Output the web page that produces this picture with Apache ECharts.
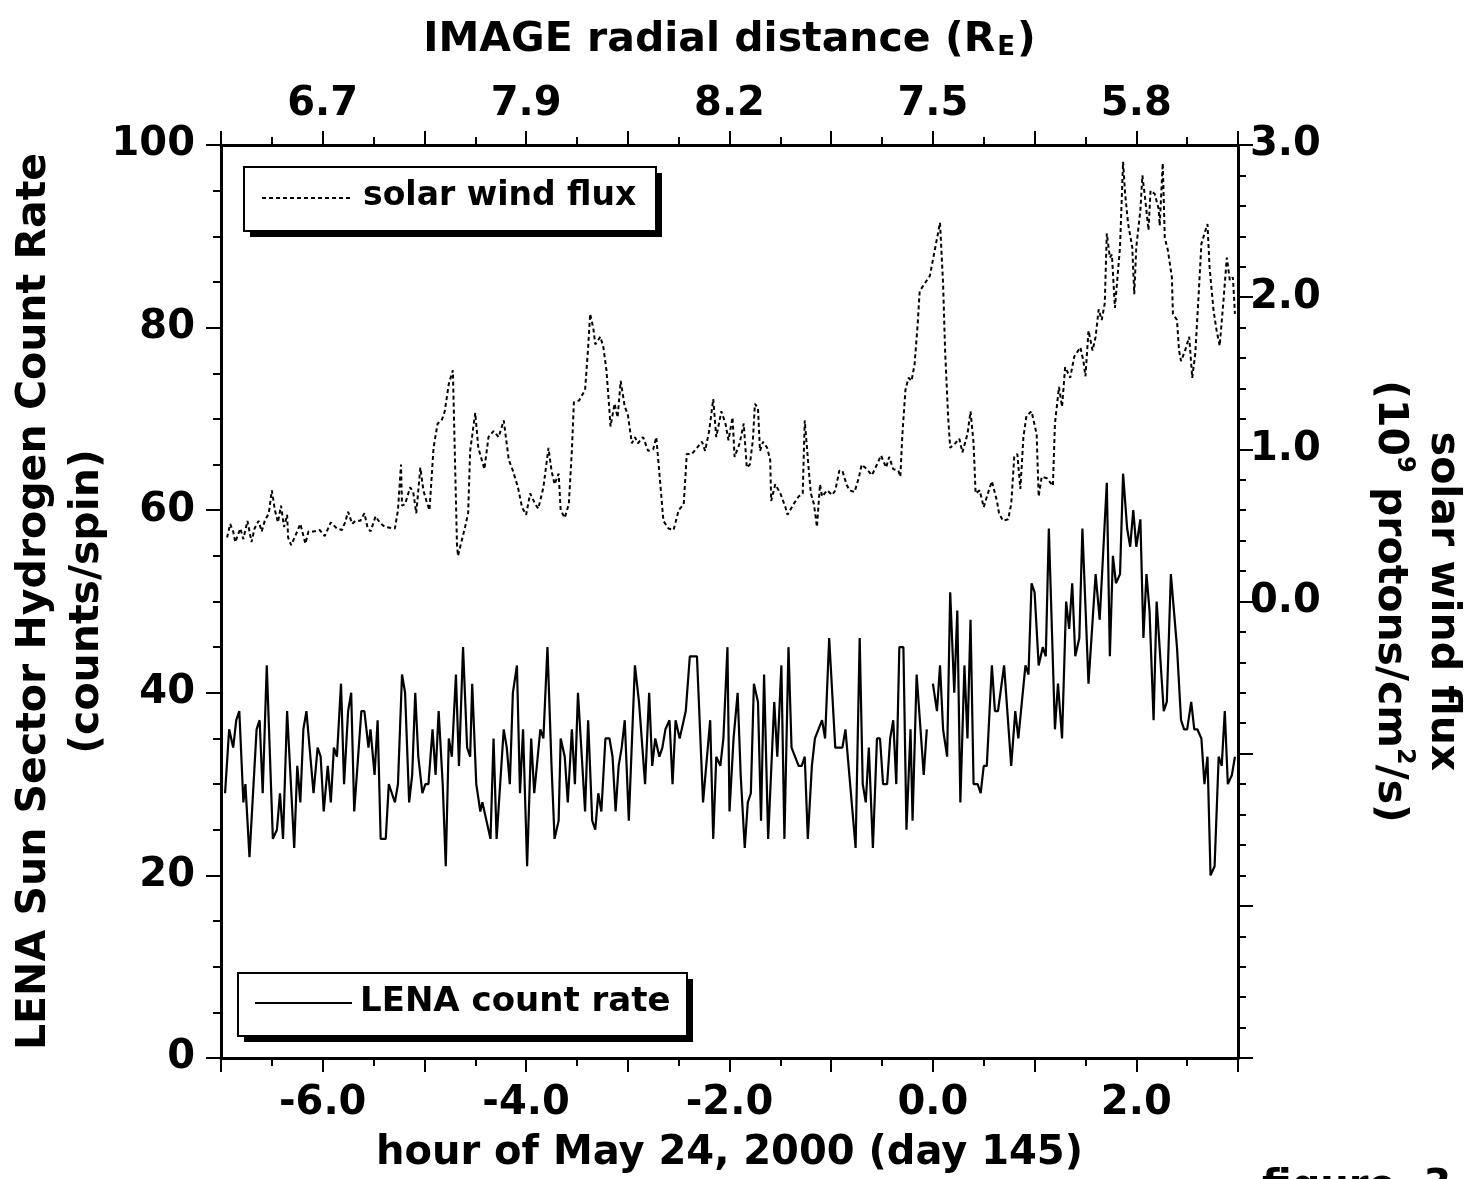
<!DOCTYPE html>
<html>
<head>
<meta charset="utf-8">
<title>LENA count rate and solar wind flux</title>
<script src="https://cdn.jsdelivr.net/npm/echarts@6/dist/echarts.min.js"></script>
<style>
  html, body { margin: 0; padding: 0; background: #fff; }
  #chart { width: 1469px; height: 1179px; }
</style>
</head>
<body>
<div id="chart"></div>
<script>
// hour of May 24, 2000 for each LENA sample (null value = data gap)
var lenaHours = [
  -6.96, -6.92, -6.88, -6.85, -6.82, -6.78, -6.76, -6.72, -6.65, -6.62, -6.59, -6.55, -6.49, -6.45, -6.42, -6.39,
  -6.35, -6.28, -6.25, -6.22, -6.19, -6.16, -6.09, -6.05, -6.02, -5.99, -5.95, -5.92, -5.89, -5.86, -5.82, -5.79,
  -5.75, -5.72, -5.69, -5.62, -5.59, -5.55, -5.53, -5.49, -5.46, -5.43, -5.38, -5.35, -5.32, -5.29, -5.26, -5.22,
  -5.19, -5.15, -5.12, -5.09, -5.06, -5.02, -4.99, -4.96, -4.92, -4.89, -4.86, -4.82, -4.79, -4.76, -4.73, -4.69,
  -4.66, -4.62, -4.58, -4.55, -4.53, -4.49, -4.45, -4.43, -4.35, -4.32, -4.29, -4.22, -4.19, -4.16, -4.13, -4.09,
  -4.06, -4.03, -3.99, -3.95, -3.92, -3.86, -3.83, -3.79, -3.75, -3.72, -3.68, -3.66, -3.62, -3.59, -3.55, -3.52,
  -3.49, -3.42, -3.39, -3.35, -3.32, -3.29, -3.26, -3.22, -3.18, -3.15, -3.12, -3.09, -3.06, -3.03, -2.99, -2.93,
  -2.89, -2.83, -2.79, -2.76, -2.73, -2.69, -2.66, -2.63, -2.59, -2.56, -2.53, -2.49, -2.43, -2.39, -2.32, -2.26,
  -2.19, -2.16, -2.13, -2.09, -2.06, -2.02, -2.00, -1.96, -1.92, -1.89, -1.85, -1.82, -1.79, -1.76, -1.72, -1.69,
  -1.66, -1.62, -1.56, -1.53, -1.49, -1.46, -1.42, -1.39, -1.32, -1.29, -1.26, -1.23, -1.19, -1.16, -1.09, -1.06,
  -1.02, -0.96, -0.92, -0.89, -0.86, -0.76, -0.72, -0.69, -0.66, -0.63, -0.59, -0.55, -0.52, -0.49, -0.45, -0.42,
  -0.39, -0.36, -0.33, -0.29, -0.26, -0.22, -0.20, -0.16, -0.09, -0.06, -0.03, 0.00, 0.04, 0.07, 0.10, 0.14,
  0.17, 0.21, 0.24, 0.27, 0.31, 0.34, 0.37, 0.40, 0.44, 0.47, 0.50, 0.53, 0.58, 0.61, 0.64, 0.70,
  0.77, 0.81, 0.84, 0.91, 0.94, 0.97, 1.00, 1.04, 1.08, 1.11, 1.14, 1.20, 1.23, 1.27, 1.31, 1.34,
  1.37, 1.40, 1.44, 1.47, 1.53, 1.60, 1.64, 1.71, 1.74, 1.77, 1.80, 1.84, 1.87, 1.91, 1.94, 1.97,
  2.00, 2.04, 2.07, 2.10, 2.13, 2.17, 2.20, 2.27, 2.30, 2.34, 2.40, 2.44, 2.47, 2.50, 2.54, 2.57,
  2.60, 2.64, 2.67, 2.70, 2.73, 2.77, 2.81, 2.84, 2.87, 2.90, 2.94, 2.97
];
// LENA sun sector hydrogen count rate (counts/spin)
var lenaCounts = [
  29, 36, 34, 37, 38, 28, 30, 22, 36, 37, 29, 43, 24, 25, 29, 24,
  38, 23, 32, 28, 36, 38, 29, 34, 33, 27, 32, 28, 34, 33, 41, 30,
  38, 40, 27, 38, 38, 34, 36, 31, 37, 24, 24, 30, 29, 28, 30, 42,
  40, 28, 31, 40, 33, 29, 30, 30, 36, 31, 38, 30, 21, 35, 33, 42,
  32, 45, 34, 33, 41, 30, 27, 28, 24, 35, 24, 36, 34, 30, 40, 43,
  29, 36, 21, 35, 29, 36, 35, 45, 32, 24, 26, 35, 33, 28, 36, 30,
  40, 27, 37, 26, 25, 29, 27, 35, 35, 33, 27, 32, 34, 37, 26, 43,
  39, 30, 40, 32, 35, 33, 34, 36, 37, 30, 37, 35, 38, 44, 44, 28,
  37, 24, 33, 32, 35, 45, 27, 35, 40, 31, 23, 28, 29, 41, 39, 26,
  42, 24, 39, 33, 43, 24, 45, 34, 32, 32, 33, 24, 32, 35, 37, 35,
  46, 34, 34, 34, 36, 23, 46, 30, 28, 34, 23, 35, 35, 30, 30, 35,
  37, 30, 45, 45, 25, 36, 26, 42, 31, 36, null, 41, 38, 43, 36, 33,
  51, 40, 49, 28, 43, 35, 48, 30, 30, 29, 32, 32, 43, 38, 38, 43,
  32, 38, 35, 43, 42, 52, 51, 43, 45, 44, 58, 36, 41, 35, 50, 47,
  52, 44, 46, 58, 41, 53, 48, 63, 44, 55, 52, 53, 64, 58, 56, 60,
  56, 59, 46, 53, 49, 37, 50, 38, 39, 53, 45, 37, 36, 36, 39, 36,
  36, 35, 30, 33, 20, 21, 33, 32, 38, 30, 31, 33
];
// hour of May 24, 2000 for each solar wind sample
var fluxHours = [
  -6.94, -6.91, -6.88, -6.86, -6.81, -6.78, -6.74, -6.70, -6.67, -6.63, -6.60, -6.57, -6.53, -6.50, -6.47, -6.44,
  -6.41, -6.38, -6.35, -6.34, -6.31, -6.27, -6.22, -6.17, -6.14, -6.09, -6.03, -5.98, -5.92, -5.86, -5.81, -5.78,
  -5.75, -5.71, -5.68, -5.63, -5.59, -5.56, -5.53, -5.50, -5.48, -5.44, -5.39, -5.29, -5.26, -5.23, -5.22, -5.19,
  -5.14, -5.11, -5.08, -5.04, -5.01, -4.98, -4.95, -4.91, -4.87, -4.83, -4.80, -4.76, -4.72, -4.68, -4.67, -4.60,
  -4.57, -4.55, -4.50, -4.47, -4.41, -4.37, -4.32, -4.27, -4.22, -4.17, -4.13, -4.08, -4.04, -4.00, -3.96, -3.91,
  -3.88, -3.83, -3.78, -3.75, -3.72, -3.68, -3.66, -3.62, -3.58, -3.55, -3.53, -3.48, -3.42, -3.39, -3.37, -3.34,
  -3.32, -3.27, -3.24, -3.21, -3.18, -3.17, -3.13, -3.10, -3.07, -3.03, -3.00, -2.96, -2.93, -2.90, -2.85, -2.80,
  -2.75, -2.72, -2.68, -2.65, -2.60, -2.55, -2.50, -2.45, -2.42, -2.37, -2.32, -2.27, -2.24, -2.20, -2.16, -2.13,
  -2.08, -2.04, -2.01, -1.97, -1.95, -1.90, -1.86, -1.83, -1.80, -1.77, -1.75, -1.72, -1.70, -1.67, -1.63, -1.60,
  -1.59, -1.55, -1.50, -1.45, -1.43, -1.37, -1.32, -1.28, -1.26, -1.22, -1.20, -1.17, -1.14, -1.11, -1.09, -1.04,
  -0.99, -0.96, -0.92, -0.89, -0.85, -0.82, -0.77, -0.73, -0.70, -0.65, -0.60, -0.55, -0.51, -0.46, -0.43, -0.39,
  -0.34, -0.32, -0.30, -0.27, -0.24, -0.21, -0.18, -0.15, -0.13, -0.08, -0.03, 0.07, 0.10, 0.12, 0.15, 0.17,
  0.22, 0.26, 0.29, 0.34, 0.37, 0.40, 0.42, 0.46, 0.50, 0.54, 0.58, 0.63, 0.65, 0.69, 0.74, 0.77,
  0.80, 0.83, 0.86, 0.89, 0.92, 0.97, 1.02, 1.04, 1.07, 1.12, 1.18, 1.20, 1.24, 1.27, 1.30, 1.35,
  1.39, 1.45, 1.48, 1.50, 1.53, 1.57, 1.60, 1.63, 1.66, 1.69, 1.71, 1.74, 1.76, 1.79, 1.82, 1.84,
  1.87, 1.89, 1.92, 1.96, 1.98, 2.00, 2.04, 2.06, 2.09, 2.12, 2.14, 2.18, 2.22, 2.23, 2.26, 2.28,
  2.31, 2.35, 2.36, 2.40, 2.42, 2.44, 2.48, 2.52, 2.55, 2.58, 2.61, 2.64, 2.68, 2.70, 2.72, 2.76,
  2.79, 2.82, 2.86, 2.89, 2.92, 2.95, 2.97
];
// solar wind flux (10^9 protons/cm^2/s)
var fluxValues = [
  0.42, 0.51, 0.46, 0.39, 0.48, 0.41, 0.53, 0.39, 0.48, 0.53, 0.46, 0.53, 0.58, 0.73, 0.60, 0.52,
  0.63, 0.49, 0.57, 0.42, 0.37, 0.43, 0.51, 0.38, 0.46, 0.46, 0.47, 0.43, 0.52, 0.48, 0.47, 0.52,
  0.59, 0.51, 0.53, 0.53, 0.58, 0.49, 0.46, 0.52, 0.56, 0.52, 0.49, 0.48, 0.60, 0.90, 0.63, 0.64,
  0.75, 0.72, 0.58, 0.88, 0.73, 0.66, 0.60, 1.01, 1.17, 1.19, 1.25, 1.43, 1.52, 0.38, 0.30, 0.49,
  0.58, 0.99, 1.24, 1.01, 0.87, 1.08, 1.12, 1.08, 1.19, 0.93, 0.86, 0.75, 0.62, 0.57, 0.71, 0.64,
  0.61, 0.75, 1.01, 0.86, 0.77, 0.84, 0.60, 0.55, 0.64, 0.99, 1.31, 1.32, 1.39, 1.67, 1.89, 1.80,
  1.69, 1.74, 1.67, 1.52, 1.25, 1.15, 1.30, 1.21, 1.45, 1.28, 1.23, 1.04, 1.08, 1.04, 1.08, 0.99,
  1.00, 1.08, 0.77, 0.53, 0.48, 0.47, 0.60, 0.64, 0.97, 0.97, 1.01, 1.05, 0.99, 1.12, 1.33, 1.08,
  1.25, 1.17, 1.06, 1.21, 0.95, 1.04, 1.17, 0.88, 0.90, 1.06, 1.30, 1.27, 0.99, 1.05, 1.01, 0.93,
  0.66, 0.77, 0.71, 0.62, 0.57, 0.64, 0.69, 0.71, 1.19, 0.86, 0.71, 0.64, 0.49, 0.77, 0.69, 0.73,
  0.70, 0.73, 0.86, 0.86, 0.77, 0.73, 0.72, 0.81, 0.90, 0.87, 0.83, 0.90, 0.96, 0.88, 0.95, 0.87,
  0.86, 0.82, 1.10, 1.39, 1.47, 1.45, 1.56, 1.82, 2.04, 2.09, 2.14, 2.49, 2.09, 1.65, 1.21, 1.01,
  1.04, 1.07, 0.98, 1.10, 1.25, 1.04, 0.71, 0.73, 0.62, 0.71, 0.79, 0.66, 0.58, 0.53, 0.54, 0.64,
  0.95, 0.97, 0.74, 1.08, 1.22, 1.25, 1.10, 0.69, 0.82, 0.81, 0.76, 1.17, 1.41, 1.28, 1.54, 1.47,
  1.61, 1.67, 1.58, 1.48, 1.78, 1.65, 1.74, 1.92, 1.85, 1.96, 2.42, 2.26, 2.28, 1.93, 2.17, 2.33,
  2.89, 2.68, 2.48, 2.33, 2.02, 2.33, 2.57, 2.80, 2.63, 2.44, 2.70, 2.68, 2.58, 2.47, 2.88, 2.39,
  2.31, 2.13, 1.89, 1.85, 1.65, 1.58, 1.65, 1.74, 1.47, 1.63, 1.98, 2.35, 2.44, 2.48, 2.20, 1.91,
  1.78, 1.68, 2.00, 2.26, 2.11, 2.13, 1.89
];
// top axis: IMAGE radial distance (R_E) at the labelled hours
var radialHours = [-6, -4, -2, 0, 2];
var radialLabels = ['6.7', '7.9', '8.2', '7.5', '5.8'];

var lenaData = lenaHours.map(function (h, i) { return [h, lenaCounts[i]]; });
var fluxData = fluxHours.map(function (h, i) { return [h, fluxValues[i]]; });

var FONT = 'DejaVu Sans';
var ink = '#000';
var chart = echarts.init(document.getElementById('chart'));

var axisLine = {show: true, onZero: false, lineStyle: {color: ink, width: 3}};
var labelStyle = {color: ink, fontFamily: FONT, fontWeight: 'bold', fontSize: 40};

var option = {
    backgroundColor: '#fff',
    animation: false,
    grid: {left: 221, right: 231, top: 145, bottom: 121, containLabel: false, outerBoundsMode: 'none'},
    xAxis: [
        {
            type: 'value', position: 'bottom', min: -7, max: 3, interval: 1,
            axisLine: axisLine,
            axisTick: {show: true, length: 14, lineStyle: {color: ink, width: 2}},
            minorTick: {show: true, splitNumber: 2, length: 8, lineStyle: {color: ink, width: 2}},
            splitLine: {show: false},
            axisLabel: Object.assign({margin: 26, formatter: function (v) {
                return v % 2 === 0 ? v.toFixed(1) : '';
            }}, labelStyle),
            name: 'hour of May 24, 2000 (day 145)',
            nameLocation: 'middle', nameGap: 76,
            nameTextStyle: labelStyle
        },
        {
            type: 'value', position: 'top', min: -7, max: 3, interval: 1,
            axisLine: axisLine,
            axisTick: {show: true, length: 14, lineStyle: {color: ink, width: 2}},
            minorTick: {show: true, splitNumber: 2, length: 8, lineStyle: {color: ink, width: 2}},
            splitLine: {show: false},
            axisLabel: Object.assign({margin: 20, formatter: function (v) {
                var k = radialHours.indexOf(v);
                return k >= 0 ? radialLabels[k] : '';
            }}, labelStyle),
            name: 'IMAGE radial distance (R{sub|E})',
            nameLocation: 'middle', nameGap: 84,
            nameTextStyle: Object.assign({fontSize: 41, rich: {
                sub: {fontFamily: FONT, fontWeight: 'bold', fontSize: 26, color: ink, verticalAlign: 'bottom', padding: [0, 2, 0, 2]}
            }}, {color: ink, fontFamily: FONT, fontWeight: 'bold'})
        }
    ],
    yAxis: [
        {
            type: 'value', position: 'left', min: 0, max: 100, interval: 20,
            axisLine: axisLine,
            axisTick: {show: true, length: 15, lineStyle: {color: ink, width: 2}},
            minorTick: {show: true, splitNumber: 4, length: 8, lineStyle: {color: ink, width: 2}},
            splitLine: {show: false},
            axisLabel: Object.assign({margin: 26}, labelStyle),
            name: 'LENA Sun Sector Hydrogen Count Rate\n(counts/spin)',
            nameLocation: 'middle', nameRotate: 90, nameGap: 107, nameMoveOverlap: false,
            nameTextStyle: Object.assign({lineHeight: 53, fontSize: 41}, {color: ink, fontFamily: FONT, fontWeight: 'bold'})
        },
        {
            type: 'value', position: 'right', min: -3, max: 3, interval: 1,
            axisLine: axisLine,
            axisTick: {show: true, length: 15, lineStyle: {color: ink, width: 2}},
            minorTick: {show: true, splitNumber: 5, length: 8, lineStyle: {color: ink, width: 2}},
            splitLine: {show: false},
            axisLabel: Object.assign({margin: 12, formatter: function (v) {
                return v >= 0 ? v.toFixed(1) : '';
            }}, labelStyle),
            name: '{t|solar wind flux}\n{t|(10}{sup|9}{t| protons/cm}{sup|2}{t|/s)}',
            nameLocation: 'middle', nameRotate: -90, nameGap: 125,
            nameTextStyle: {
                color: ink, fontFamily: FONT, fontWeight: 'bold', fontSize: 41, lineHeight: 53,
                rich: {
                    t: {color: ink, fontFamily: FONT, fontWeight: 'bold', fontSize: 41, lineHeight: 53},
                    sup: {color: ink, fontFamily: FONT, fontWeight: 'bold', fontSize: 24, verticalAlign: 'top', lineHeight: 40}
                }
            }
        }
    ],
    series: [
        {
            name: 'LENA count rate', type: 'line', xAxisIndex: 0, yAxisIndex: 0,
            data: lenaData, showSymbol: false, symbol: 'none', connectNulls: false,
            lineStyle: {color: ink, width: 2.2}
        },
        {
            name: 'solar wind flux', type: 'line', xAxisIndex: 0, yAxisIndex: 1,
            data: fluxData, showSymbol: false, symbol: 'none',
            lineStyle: {color: ink, width: 2, type: [4, 3]}
        }
    ],
    graphic: [
        // solar wind flux legend box
        {type: 'rect', left: 250, top: 173, shape: {width: 412, height: 64}, style: {fill: ink}, z: 10},
        {type: 'rect', left: 243, top: 166, shape: {width: 412, height: 64}, style: {fill: '#fff', stroke: ink, lineWidth: 2}, z: 11},
        {type: 'line', shape: {x1: 262, y1: 198, x2: 352, y2: 198}, style: {stroke: ink, lineWidth: 2, lineDash: [4, 3]}, z: 12},
        {type: 'text', left: 363, top: 180, style: {text: 'solar wind flux', fill: ink, font: 'bold 33px "DejaVu Sans"'}, z: 12},
        // LENA count rate legend box
        {type: 'rect', left: 244, top: 979, shape: {width: 449, height: 63}, style: {fill: ink}, z: 10},
        {type: 'rect', left: 237, top: 972, shape: {width: 449, height: 63}, style: {fill: '#fff', stroke: ink, lineWidth: 2}, z: 11},
        {type: 'line', shape: {x1: 255, y1: 1003, x2: 352, y2: 1003}, style: {stroke: ink, lineWidth: 2}, z: 12},
        {type: 'text', left: 360, top: 985, style: {text: 'LENA count rate', fill: ink, font: 'bold 34px "DejaVu Sans"'}, z: 12},
        // figure caption, cut off at the page bottom
        {type: 'text', left: 1262, top: 1168, style: {text: 'figure  3', fill: ink, font: 'bold 40px "DejaVu Sans"'}, z: 12}
    ]
};
chart.setOption(option);
window.onresize = function () { chart.resize(); };
</script>
</body>
</html>
